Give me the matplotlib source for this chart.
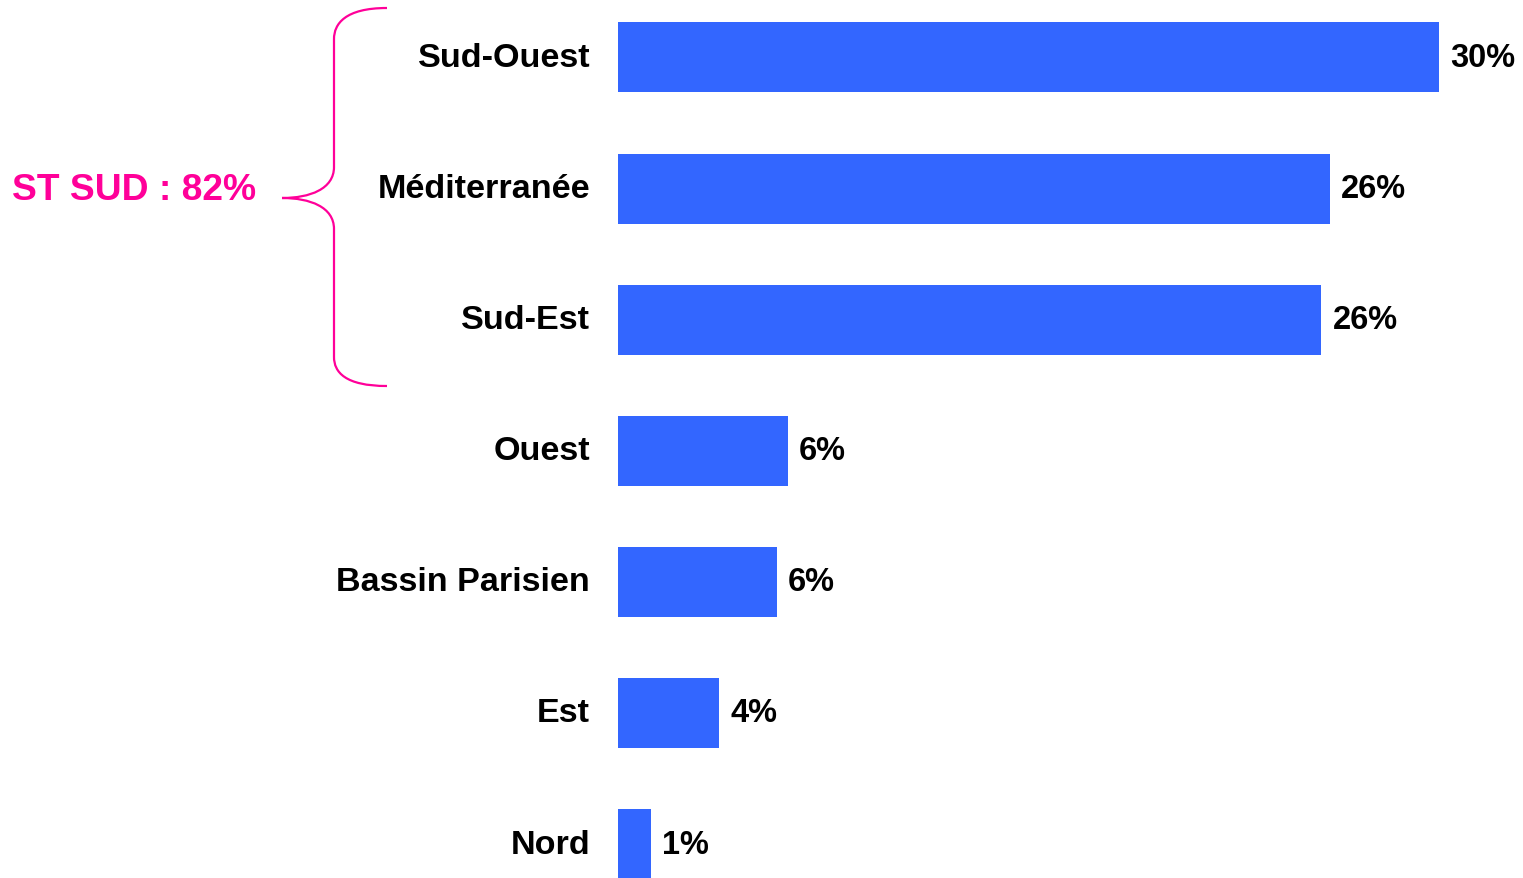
import matplotlib
matplotlib.use("Agg")
import matplotlib.pyplot as plt
from matplotlib.path import Path
from matplotlib.patches import PathPatch

categories = ["Sud-Ouest", "Méditerranée", "Sud-Est", "Ouest", "Bassin Parisien", "Est", "Nord"]
values = [30.0, 26.0, 25.7, 6.2, 5.8, 3.7, 1.2]
value_labels = ["30%", "26%", "26%", "6%", "6%", "4%", "1%"]
group_label = "ST SUD : 82%"

W, H = 1523, 879
BAR_COLOR = "#3366FF"
PINK = "#FF0099"

plt.rcParams["font.family"] = ["Liberation Sans", "DejaVu Sans"]

fig = plt.figure(figsize=(W / 100, H / 100), dpi=100)
ax_left = 618 / W
ax = fig.add_axes([ax_left, 0, 1 - ax_left, 1])

px_per_unit = (1439 - 618) / 30.0
ax.set_xlim(0, (W - 618) / px_per_unit)
spacing = (845 - 58) / 6
ax.set_ylim((879 - 58) / spacing, -58.5 / spacing)

ypos = list(range(len(categories)))
ax.barh(ypos, values, height=70 / spacing, color=BAR_COLOR, edgecolor="none")

for y, v, lab in zip(ypos, values, value_labels):
    ax.annotate(lab, xy=(v, y), xytext=(8, 0), textcoords="offset points",
                ha="left", va="center", fontsize=23.5, fontweight="bold", color="black")

ax.set_yticks(ypos)
ax.set_yticklabels(categories, fontsize=24.6, fontweight="bold", va="center")
ax.tick_params(axis="y", length=0, pad=20)
ax.tick_params(axis="x", bottom=False, labelbottom=False)
for s in ax.spines.values():
    s.set_visible(False)

# Brace in pixel coordinates (converted to figure fraction)
def P(x, y):
    return (x / W, 1 - y / H)

verts = [
    P(387, 9), P(345, 9), P(334, 25), P(334, 40),
    P(334, 168),
    P(334, 190), P(310, 199), P(282, 199),
    P(310, 199), P(334, 208), P(334, 230),
    P(334, 358),
    P(334, 373), P(345, 387), P(387, 387),
]
codes = [Path.MOVETO, Path.CURVE4, Path.CURVE4, Path.CURVE4,
         Path.LINETO,
         Path.CURVE4, Path.CURVE4, Path.CURVE4,
         Path.CURVE4, Path.CURVE4, Path.CURVE4,
         Path.LINETO,
         Path.CURVE4, Path.CURVE4, Path.CURVE4]
brace = PathPatch(Path(verts, codes), transform=fig.transFigure, fill=False,
                  edgecolor=PINK, linewidth=1.6)
fig.patches.append(brace)

fig.text(12 / W, 1 - 191 / H, group_label, ha="left", va="center",
         fontsize=26.8, fontweight="bold", color=PINK)

fig.savefig("out.png", dpi=100)
